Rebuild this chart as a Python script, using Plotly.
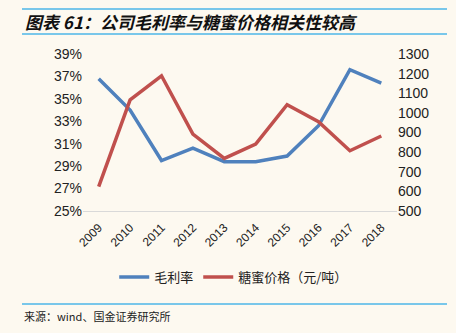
import plotly.graph_objects as go

years = ["2009", "2010", "2011", "2012", "2013", "2014", "2015", "2016", "2017", "2018"]
gross_margin = [36.8, 34.0, 29.5, 30.6, 29.4, 29.4, 29.9, 32.6, 37.6, 36.4]
molasses_price = [624, 1066, 1189, 892, 768, 841, 1042, 955, 807, 882]
left_ticks = [25, 27, 29, 31, 33, 35, 37, 39]
left_tick_labels = ["25%", "27%", "29%", "31%", "33%", "35%", "37%", "39%"]
right_ticks = [500, 600, 700, 800, 900, 1000, 1100, 1200, 1300]

BG = "#FDF9F0"
FONT = "Liberation Sans, Arial, Noto Sans CJK SC"
CJK = "Noto Sans CJK SC"

W, H = 456, 333
L, R, T, B = 83, 59, 54, 122
pw, ph = W - L - R, H - T - B


def px(x):
    return (x - L) / pw


def py(y):
    return (H - B - y) / ph


fig = go.Figure()
fig.add_trace(go.Scatter(x=years, y=gross_margin, name="毛利率", mode="lines",
                         line=dict(color="#4F81BD", width=3.5), yaxis="y"))
fig.add_trace(go.Scatter(x=years, y=molasses_price, name="糖蜜价格（元/吨）", mode="lines",
                         line=dict(color="#C0504D", width=3.5), yaxis="y2"))

fig.update_layout(
    width=W, height=H,
    margin=dict(l=L, r=R, t=T, b=B),
    paper_bgcolor=BG, plot_bgcolor=BG,
    font=dict(family=FONT, size=14, color="#222222"),
    showlegend=True,
    legend=dict(orientation="h", x=0.48, xanchor="center", y=py(277), yanchor="middle",
                font=dict(family=CJK, size=13, color="#222222"), bgcolor="rgba(0,0,0,0)",
                itemwidth=30, tracegroupgap=0),
    xaxis=dict(type="category", range=[-0.5, 9.5], showgrid=False, showline=True,
               linecolor="#D9D9D9", linewidth=1, ticks="", tickangle=-45,
               tickfont=dict(size=12), zeroline=False, ticklabelstandoff=4),
    yaxis=dict(range=[25, 39], tickvals=left_ticks, ticktext=left_tick_labels,
               showgrid=False, showline=False, zeroline=False, ticks="",
               tickfont=dict(size=14)),
    yaxis2=dict(range=[500, 1300], tickvals=right_ticks, overlaying="y", side="right",
                showgrid=False, showline=False, zeroline=False, ticks="",
                tickfont=dict(size=14)),
    shapes=[
        dict(type="line", xref="paper", yref="paper", x0=px(22), x1=px(447), y0=py(9), y1=py(9),
             line=dict(color="#4DB6E8", width=1.5)),
        dict(type="line", xref="paper", yref="paper", x0=px(22), x1=px(447), y0=py(34), y1=py(34),
             line=dict(color="#4DB6E8", width=1.5)),
        dict(type="line", xref="paper", yref="paper", x0=px(22), x1=px(447), y0=py(304), y1=py(304),
             line=dict(color="#4DB6E8", width=1.5)),
    ],
    annotations=[
        dict(text="<b><i>图表 61：公司毛利率与糖蜜价格相关性较高</i></b>", xref="paper", yref="paper",
             x=px(23), y=py(21.5), xanchor="left", yanchor="middle", showarrow=False,
             font=dict(family=CJK, size=17, color="#111111")),
        dict(text="来源：wind、国金证券研究所", xref="paper", yref="paper",
             x=px(22), y=py(316), xanchor="left", yanchor="middle", showarrow=False,
             font=dict(family=CJK, size=11, color="#222222")),
    ],
)

fig.write_html("out.html")
